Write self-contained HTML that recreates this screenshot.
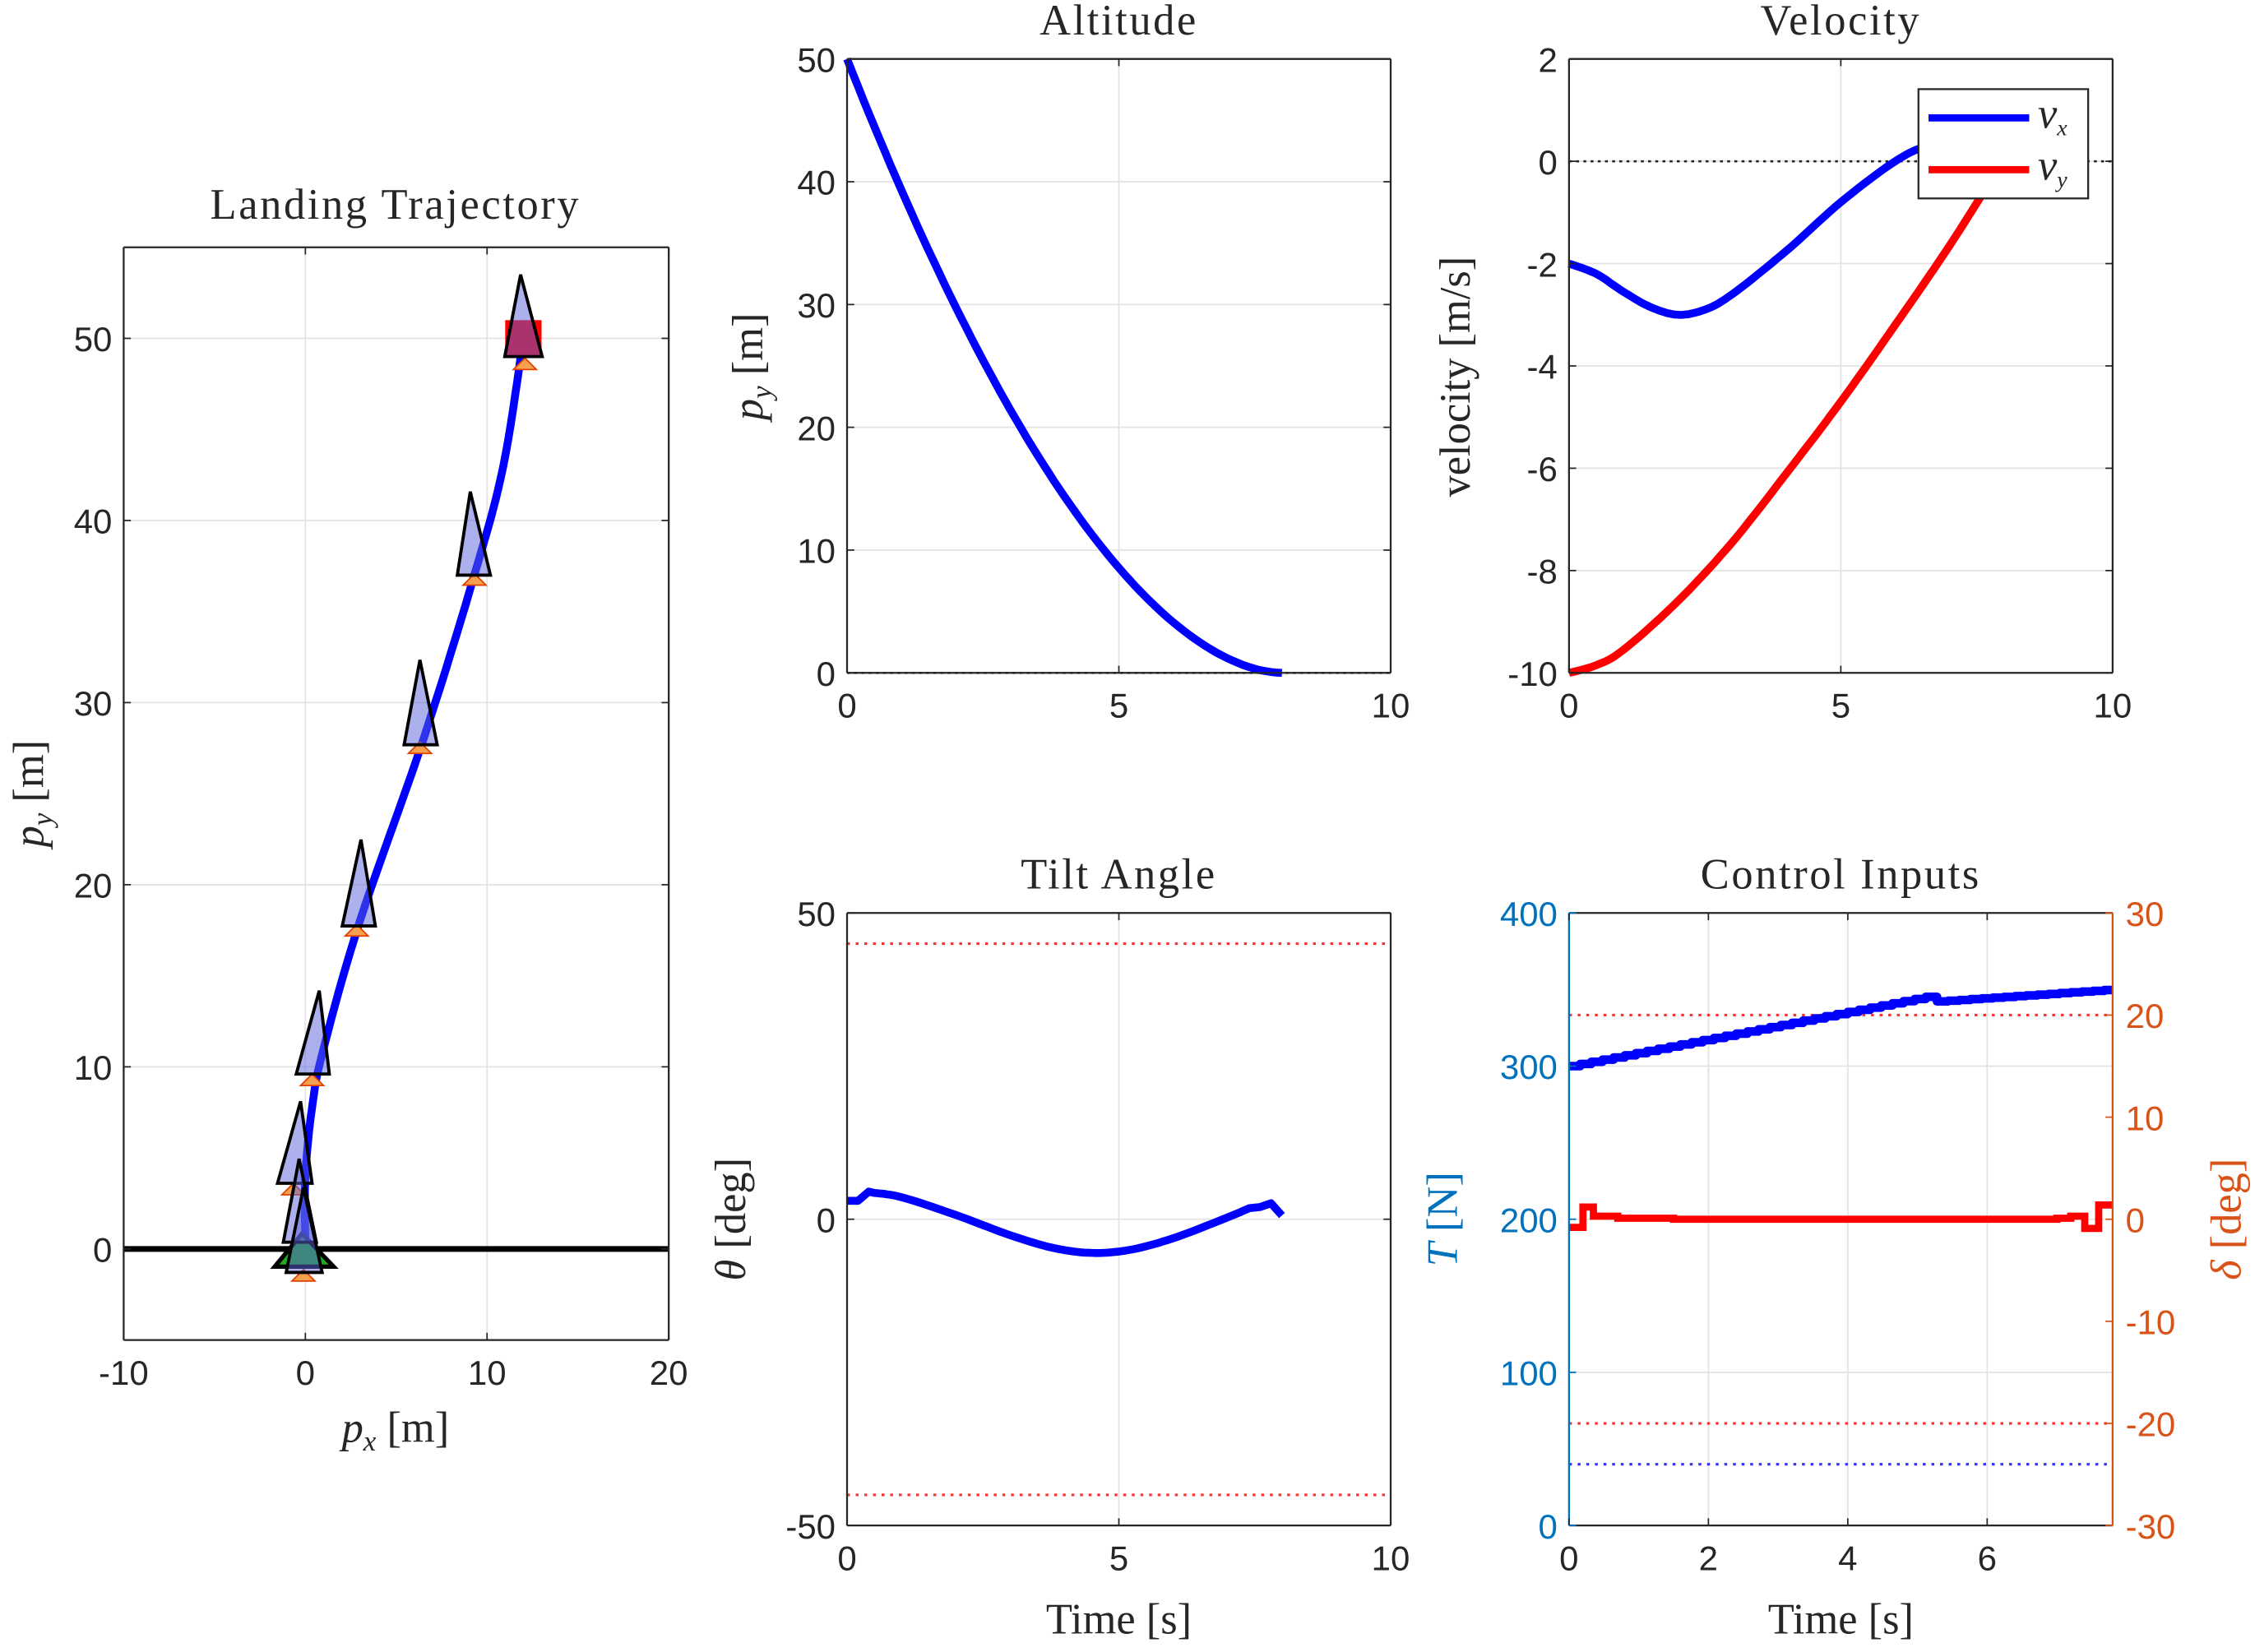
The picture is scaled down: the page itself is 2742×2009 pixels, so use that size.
<!DOCTYPE html>
<html><head><meta charset="utf-8"><style>
html,body{margin:0;padding:0;background:#fff}
svg{display:block}
.t{font-family:"Liberation Sans",sans-serif;font-size:24px;fill:#262626}
.s{font-family:"Liberation Serif",serif;font-size:30px;fill:#262626}
.ti{letter-spacing:1.5px}
</style></head><body>
<svg id="g" xmlns="http://www.w3.org/2000/svg" width="2742" height="2009" viewBox="0 0 1568 1149" preserveAspectRatio="none"></svg>
<script>
const S=document.getElementById('g');let h='';
function ax(L,R,T,B,x0,x1,y0,y1,xt,yt,opt){opt=opt||{};
 const X=v=>L+(v-x0)/(x1-x0)*(R-L),Y=v=>B-(v-y0)/(y1-y0)*(B-T);
 xt.forEach(v=>{h+=`<line x1="${X(v)}" y1="${T}" x2="${X(v)}" y2="${B}" stroke="#e3e3e3" stroke-width="1"/>`});
 (opt.gy||yt).forEach(v=>{h+=`<line x1="${L}" y1="${Y(v)}" x2="${R}" y2="${Y(v)}" stroke="#e3e3e3" stroke-width="1"/>`});
 return {X,Y,L,R,T,B,xt,yt};}
function frame(a,opt){opt=opt||{};const {L,R,T,B,X,Y}=a;
 const lc=opt.lc||'#262626';
 h+=`<line x1="${L}" y1="${T}" x2="${R}" y2="${T}" stroke="#262626" stroke-width="1.3"/><line x1="${L}" y1="${B}" x2="${R}" y2="${B}" stroke="#262626" stroke-width="1.3"/>`;
 h+=`<line x1="${L}" y1="${T}" x2="${L}" y2="${B}" stroke="${lc}" stroke-width="1.3"/>`;
 h+=`<line x1="${R}" y1="${T}" x2="${R}" y2="${B}" stroke="${opt.rc||'#262626'}" stroke-width="1.3"/>`;
 a.xt.forEach(v=>{h+=`<line x1="${X(v)}" y1="${B}" x2="${X(v)}" y2="${B-5}" stroke="#262626"/><line x1="${X(v)}" y1="${T}" x2="${X(v)}" y2="${T+5}" stroke="#262626"/>`;
  h+=`<text class="t" x="${X(v)}" y="${B+31}" text-anchor="middle">${v}</text>`});
 a.yt.forEach(v=>{h+=`<line x1="${L}" y1="${Y(v)}" x2="${L+5}" y2="${Y(v)}" stroke="${lc}"/>`;
  if(!opt.norr)h+=`<line x1="${R}" y1="${Y(v)}" x2="${R-5}" y2="${Y(v)}" stroke="#262626"/>`;
  h+=`<text class="t" x="${L-8}" y="${Y(v)+9}" text-anchor="end" style="fill:${lc}">${v}</text>`});}
function path(a,pts,col,w,extra){h+=`<polyline fill="none" stroke="${col}" stroke-width="${w}" stroke-linejoin="round" ${extra||''} points="${pts.map(p=>a.X(p[0]).toFixed(1)+','+a.Y(p[1]).toFixed(1)).join(' ')}"/>`}
function smooth(k){const p=[];
 for(let i=0;i<k.length-1;i++){const a=k[Math.max(0,i-1)],b=k[i],c=k[i+1],d=k[Math.min(k.length-1,i+2)];
  for(let s=0;s<10;s++){const u=s/10,u2=u*u,u3=u2*u;
   const f=(A,B,C,D)=>0.5*((2*B)+(-A+C)*u+(2*A-5*B+4*C-D)*u2+(-A+3*B-3*C+D)*u3);
   p.push([f(a[0],b[0],c[0],d[0]),f(a[1],b[1],c[1],d[1])]);}}
 p.push(k[k.length-1]);return p;}

// ---------- Landing trajectory
let a=ax(86,465,172,932,-10,20,-5,55,[-10,0,10,20],[0,10,20,30,40,50]);
path(a,[[-10,0],[20,0]],'#000',4);
const traj=smooth([[12,50],[10.9,43],[9.3,37],[6.5,28],[3,18],[1,11],[0.4,8],[0,4],[0,0]]);
path(a,traj,'#0000ff',5.5);
h+=`<rect x="${a.X(11)}" y="${a.Y(51)}" width="${a.X(13)-a.X(11)}" height="${a.Y(49)-a.Y(51)}" fill="#ff0000"/>`;
function flame(x,y){h+=`<polygon points="${x},${y-7} ${x-8},${y+1} ${x+8},${y+1}" fill="#f5a050" stroke="#e04000" stroke-width="1"/>`;}
function rocket(ax_,ay,bl,br,by){h+=`<polygon points="${ax_},${ay} ${bl},${by} ${br},${by}" fill="rgba(90,100,220,0.5)" stroke="#000" stroke-width="2.2" stroke-linejoin="miter"/>`;}
flame(365,256);flame(330,406);flame(292,523);flame(248,650);flame(217,754);flame(204,830);flame(211,890);
h+=`<polygon points="191,881 210,858 232,881" fill="#22aa22" stroke="#000" stroke-width="3"/>`;
rocket(362,191,351,377,248);rocket(327,342,318,341,400);rocket(292,459,281,304,518);rocket(251,584,238,261,644);
rocket(222,689,206,229,747);rocket(209,766,193,217,823);rocket(208,806,197,220,864);rocket(211,826,199,224,885);
frame(a);
h+=`<text class="s ti" x="275" y="152" text-anchor="middle">Landing Trajectory</text>`;
h+=`<text class="s" x="275" y="1003" text-anchor="middle"><tspan font-style="italic">p</tspan><tspan font-style="italic" font-size="20" dy="6">x</tspan><tspan dy="-6"> [m]</tspan></text>`;
h+=`<text class="s" transform="translate(30,552) rotate(-90)" text-anchor="middle"><tspan font-style="italic">p</tspan><tspan font-style="italic" font-size="20" dy="6">y</tspan><tspan dy="-6"> [m]</tspan></text>`;

// ---------- Altitude
a=ax(589,967,41,468,0,10,0,50,[0,5,10],[0,10,20,30,40,50]);
path(a,[[0,0],[10,0]],'#262626',1.5,'stroke-dasharray="2,3"');
let p=[];for(let t=0;t<=8.001;t+=0.1)p.push([t,50*Math.pow(1-t/8,1.8)]);
path(a,p,'#0000ff',5.5);
frame(a);
h+=`<text class="s ti" x="778" y="24" text-anchor="middle">Altitude</text>`;
h+=`<text class="s" transform="translate(530,255) rotate(-90)" text-anchor="middle"><tspan font-style="italic">p</tspan><tspan font-style="italic" font-size="20" dy="6">y</tspan><tspan dy="-6"> [m]</tspan></text>`;

// ---------- Velocity
a=ax(1091,1469,41,468,0,10,-10,2,[0,5,10],[-10,-8,-6,-4,-2,0,2]);
path(a,[[0,0],[10,0]],'#262626',1.5,'stroke-dasharray="2,3"');
path(a,smooth([[0,-2],[0.5,-2.2],[1,-2.55],[1.5,-2.85],[2,-3.0],[2.5,-2.9],[3,-2.6],[4,-1.75],[5,-0.8],[6,0.0],[6.6,0.3],[7.2,0.35],[8,0.1]]),'#0000ff',5.5);
path(a,smooth([[0,-10],[0.5,-9.85],[1,-9.55],[2,-8.6],[3,-7.45],[4,-6.1],[5,-4.7],[6,-3.2],[7,-1.65],[7.8,-0.3],[8,0.1]]),'#ff0000',5.5);
frame(a);
h+=`<rect x="1334" y="62" width="118" height="76" fill="#fff" stroke="#262626" stroke-width="1.3"/>`;
h+=`<line x1="1341" y1="82" x2="1411" y2="82" stroke="#0000ff" stroke-width="5"/><line x1="1341" y1="118" x2="1411" y2="118" stroke="#ff0000" stroke-width="5"/>`;
h+=`<text class="s" x="1417" y="89" font-style="italic" font-size="24">v<tspan font-size="16" dy="5">x</tspan></text>`;
h+=`<text class="s" x="1417" y="125" font-style="italic" font-size="24">v<tspan font-size="16" dy="5">y</tspan></text>`;
h+=`<text class="s ti" x="1280" y="24" text-anchor="middle">Velocity</text>`;
h+=`<text class="s" transform="translate(1022,262) rotate(-90)" text-anchor="middle">velocity [m/s]</text>`;

// ---------- Tilt
a=ax(589,967,635,1061,0,10,-50,50,[0,5,10],[-50,0,50]);
path(a,[[0,45],[10,45]],'#ff3030',1.8,'stroke-dasharray="2,4"');
path(a,[[0,-45],[10,-45]],'#ff3030',1.8,'stroke-dasharray="2,4"');
p=[[0,3],[0.2,3],[0.4,4.5]].concat(smooth([[0.5,4.3],[1,3.6],[2,0.7],[3,-2.6],[3.8,-4.7],[4.5,-5.5],[5.2,-5.0],[6,-3.1],[7,0.3],[7.4,1.8]]));
p.push([7.6,2],[7.8,2.6],[8,0.6]);
path(a,p,'#0000ff',5.5);
frame(a);
h+=`<text class="s ti" x="778" y="618" text-anchor="middle">Tilt Angle</text>`;
h+=`<text class="s" transform="translate(518,848) rotate(-90)" text-anchor="middle"><tspan font-style="italic">θ</tspan> [deg]</text>`;

// ---------- Control
a=ax(1091,1469,635,1061,0,7.8,0,400,[0,2,4,6],[0,100,200,300,400]);
const Yd=v=>848-v*7.1;
h+=`<line x1="1091" y1="${Yd(20)}" x2="1469" y2="${Yd(20)}" stroke="#ff3030" stroke-width="1.8" stroke-dasharray="2,4"/>`;
h+=`<line x1="1091" y1="${Yd(-20)}" x2="1469" y2="${Yd(-20)}" stroke="#ff3030" stroke-width="1.8" stroke-dasharray="2,4"/>`;
h+=`<line x1="1091" y1="${a.Y(40)}" x2="1469" y2="${a.Y(40)}" stroke="#3030ff" stroke-width="1.8" stroke-dasharray="2,4"/>`;
p=[];const dt=0.16;for(let t=0;t<7.8;t+=dt){let v=t<5.2?300+t*46/5.2:342+(t-5.2)*8/2.6;p.push([t,v],[Math.min(t+dt,7.8),v]);}
path(a,p,'#0000ff',6,'stroke-linejoin="miter"');
const dk=[[0,-0.8],[0.2,1.2],[0.35,0.3],[0.7,0.1],[1.5,0],[7,0.1],[7.2,0.3],[7.4,-0.9],[7.6,1.4],[7.8,1.4]];
let q='';for(let i=0;i<dk.length-1;i++){const y=Yd(dk[i][1]).toFixed(1);q+=`${a.X(dk[i][0])},${y} ${a.X(dk[i+1][0])},${y} `;}
h+=`<polyline fill="none" stroke="#ff0000" stroke-width="5" points="${q}"/>`;
frame(a,{lc:'#0072BD',rc:'#D95319',norr:true});
[-30,-20,-10,0,10,20,30].forEach(v=>{h+=`<line x1="1469" y1="${Yd(v)}" x2="1464" y2="${Yd(v)}" stroke="#D95319"/><text class="t" x="1478" y="${Yd(v)+9}" style="fill:#D95319">${v}</text>`});
h+=`<text class="s ti" x="1280" y="618" text-anchor="middle">Control Inputs</text>`;
h+=`<text class="s" transform="translate(1013,848) rotate(-90)" text-anchor="middle" style="fill:#0072BD"><tspan font-style="italic">T</tspan> [N]</text>`;
h+=`<text class="s" transform="translate(1558,848) rotate(-90)" text-anchor="middle" style="fill:#D95319"><tspan font-style="italic">δ</tspan> [deg]</text>`;
h+=`<text class="s" x="778" y="1136" text-anchor="middle">Time [s]</text><text class="s" x="1280" y="1136" text-anchor="middle">Time [s]</text>`;
S.innerHTML=h;
</script>
</body></html>
